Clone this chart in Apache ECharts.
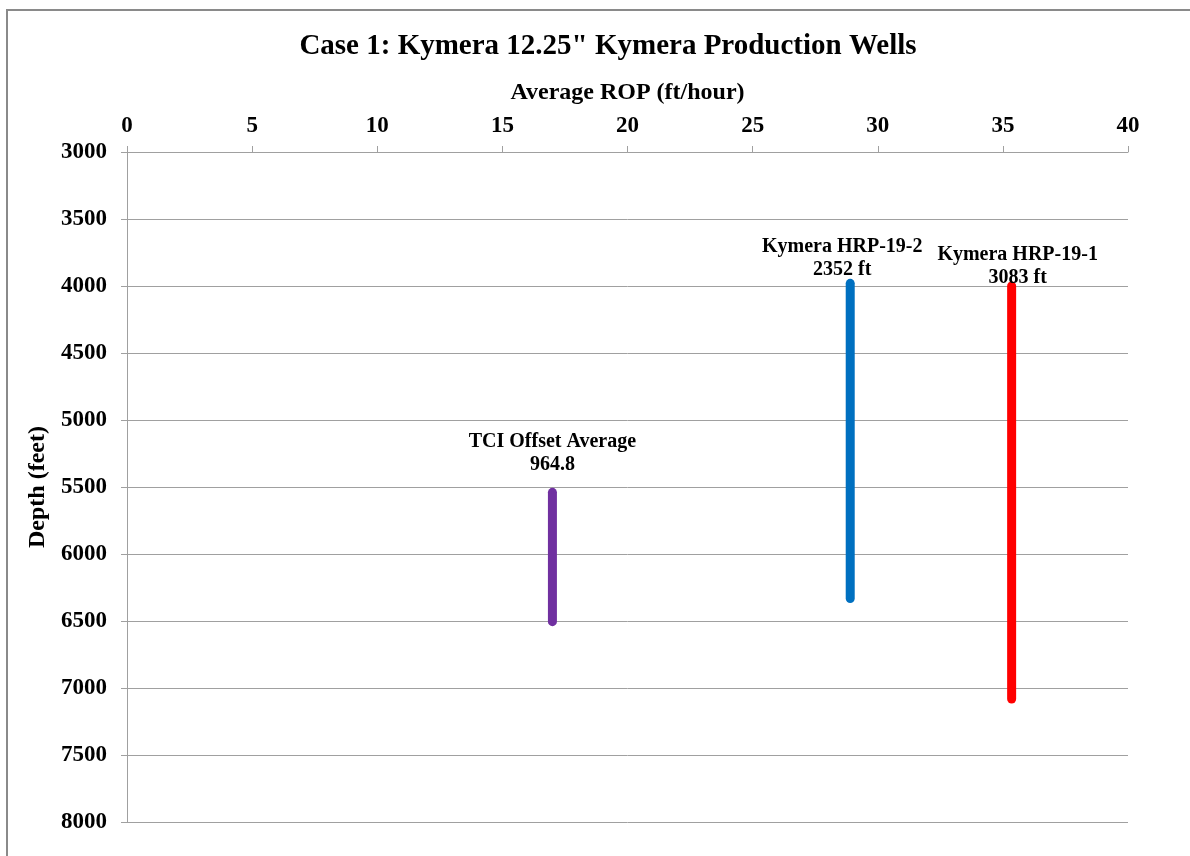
<!DOCTYPE html>
<html><head><meta charset="utf-8">
<script src="https://cdn.jsdelivr.net/npm/echarts@6/dist/echarts.min.js"></script>
<style>html,body{margin:0;padding:0;background:#fff}#c{width:1190px;height:856px}</style>
</head><body><div id="c"></div>
<script>
const wellNames = ['TCI Offset Average', 'Kymera HRP-19-2', 'Kymera HRP-19-1'];
const wellSub = ['964.8', '2352 ft', '3083 ft'];
const wellROP = [17.0, 28.9, 35.35];
const wellTop = [5540, 3980, 4000];
const wellBottom = [6505, 6332, 7083];
const wellColors = ['#7030A0', '#0070C0', '#FF0000'];
const labelDist = [15, 1, -4];
const labelDx = [0, -8, 6];
const xTicks = [0, 40, 5];
const yTicks = [3000, 8000, 500];

const FONT = '"Liberation Serif", "Times New Roman", serif';
const series = wellNames.map((n, i) => ({
  type: 'line',
  name: n,
  symbol: 'circle',
  symbolSize: 2,
  showSymbol: true,
  itemStyle: { color: wellColors[i] },
  lineStyle: { color: wellColors[i], width: 9, cap: 'round' },
  z: 5,
  data: [
    { value: [wellROP[i], wellTop[i]],
      label: { show: true, position: 'top', distance: labelDist[i], offset: [labelDx[i], 0],
        formatter: n + '\n' + wellSub[i], color: '#000', fontFamily: FONT, fontWeight: 'bold',
        fontSize: 20, lineHeight: 23, align: 'center' } },
    [wellROP[i], wellBottom[i]]
  ]
}));

const chart = echarts.init(document.getElementById('c'), null, { renderer: 'canvas' });
chart.setOption({
  animation: false,
  backgroundColor: '#fff',
  title: {
    text: 'Case 1: Kymera 12.25" Kymera Production Wells',
    left: 603, top: 27, textAlign: 'center',
    textStyle: { fontFamily: FONT, fontWeight: 'bold', fontSize: 29, color: '#000' }
  },
  graphic: [{ type: 'rect', shape: { x: 7, y: 10, width: 1400, height: 1000 },
    style: { fill: 'none', stroke: '#8a8a8a', lineWidth: 2 }, silent: true }],
  grid: { left: 127, top: 152, right: 62, bottom: 34, containLabel: false },
  xAxis: {
    type: 'value', position: 'top', min: xTicks[0], max: xTicks[1], interval: xTicks[2],
    name: 'Average ROP (ft/hour)', nameLocation: 'middle', nameGap: 47,
    nameTextStyle: { fontFamily: FONT, fontWeight: 'bold', fontSize: 24, color: '#000' },
    axisLine: { show: true, lineStyle: { color: '#a0a0a0', width: 1 } },
    axisTick: { show: true, length: 6, lineStyle: { color: '#a0a0a0' } },
    axisLabel: { fontFamily: FONT, fontWeight: 'bold', fontSize: 23, color: '#000', margin: 14,
      formatter: v => String(v) },
    splitLine: { show: false }
  },
  yAxis: {
    type: 'value', inverse: true, min: yTicks[0], max: yTicks[1], interval: yTicks[2],
    name: 'Depth (feet)', nameLocation: 'middle', nameGap: 76, nameRotate: 90,
    nameTextStyle: { fontFamily: FONT, fontWeight: 'bold', fontSize: 24, color: '#000' },
    axisLine: { show: true, lineStyle: { color: '#a0a0a0', width: 1 } },
    axisTick: { show: true, length: 6, lineStyle: { color: '#a0a0a0' } },
    axisLabel: { fontFamily: FONT, fontWeight: 'bold', fontSize: 23, color: '#000', margin: 20,
      formatter: v => String(v) },
    splitLine: { show: true, lineStyle: { color: '#a0a0a0', width: 1 } }
  },
  series: series
});
</script></body></html>
